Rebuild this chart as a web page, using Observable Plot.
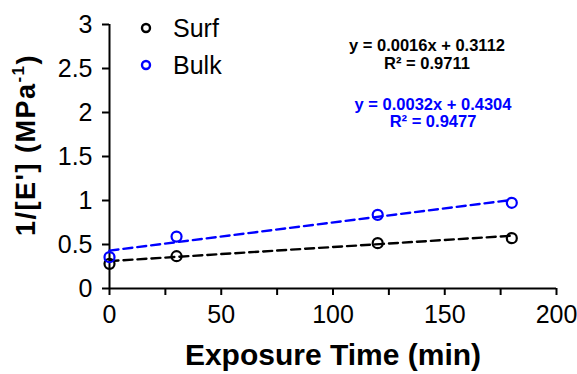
<!DOCTYPE html>
<html>
<head>
<meta charset="utf-8">
<script src="https://cdn.jsdelivr.net/npm/d3@7"></script>
<script src="https://cdn.jsdelivr.net/npm/@observablehq/plot@0.6"></script>
<style>
  html, body { margin: 0; padding: 0; background: #fff; }
  svg { font-family: Arial, "Liberation Sans", sans-serif; }
</style>
</head>
<body>
<div id="chart"></div>
<script>
// Data
const times = [0, 30, 120, 180];
const surf = [0.28, 0.367, 0.515, 0.572];
const bulk = [0.356, 0.59, 0.837, 0.974];

const seriesNames = ["Surf", "Bulk"];
const seriesColors = ["#000000", "#0000FF"];
const slopes = [0.0016, 0.0032];
const intercepts = [0.3112, 0.4304];
const r2 = ["0.9711", "0.9477"];
const fitRange = [0, 180];

const xTicks = [0, 25, 50, 75, 100, 125, 150, 175, 200];
const yTicks = [0, 0.5, 1, 1.5, 2, 2.5, 3];

const points = [];
times.forEach((t, i) => {
  points.push({series: "Surf", x: t, y: surf[i]});
  points.push({series: "Bulk", x: t, y: bulk[i]});
});
const fits = [];
seriesNames.forEach((s, k) => {
  fitRange.forEach(x => fits.push({series: s, x, y: slopes[k] * x + intercepts[k]}));
});

const eqTexts = seriesNames.map((s, k) => ({
  series: s,
  eq: `y = ${slopes[k].toFixed(4)}x + ${intercepts[k].toFixed(4)}`,
  r2: `R² = ${r2[k]}`
}));

const chart = Plot.plot({
  width: 577,
  height: 374,
  marginLeft: 109,
  marginRight: 21,
  marginTop: 24,
  marginBottom: 86,
  style: {fontFamily: "Arial, 'Liberation Sans', sans-serif", background: "#fff", overflow: "visible"},
  x: {domain: [0, 200]},
  y: {domain: [0, 3]},
  color: {domain: seriesNames, range: seriesColors},
  marks: [
    Plot.axisY({ticks: yTicks, tickSize: 7, tickPadding: 10, fontSize: 25, label: null, strokeWidth: 2, tickFormat: d => String(d)}),
    Plot.axisX({ticks: xTicks, tickSize: 7, tickPadding: 10, fontSize: 25, label: null, strokeWidth: 2,
      tickFormat: d => d % 50 === 0 ? String(d) : ""}),
    Plot.ruleX([0], {y1: 0, y2: 3, stroke: "#000", strokeWidth: 2}),
    Plot.ruleY([0], {x1: 0, x2: 200, stroke: "#000", strokeWidth: 2}),
    Plot.line(fits, {x: "x", y: "y", z: "series", stroke: "series", strokeWidth: 2.4, strokeDasharray: "9,5"}),
    Plot.dot(points, {x: "x", y: "y", stroke: "series", r: 5, strokeWidth: 2.2, fill: "none"}),
    Plot.text(["Exposure Time (min)"], {frameAnchor: "bottom", dy: 76, fontSize: 30, fontWeight: "bold", fill: "#000"})
  ]
});

// Legend, equation labels and y title placed relative to the frame
const svg = d3.select(chart);
const frameLeft = 109;
const legendY = [28, 65];
const g = svg.append("g").attr("font-family", "Arial, 'Liberation Sans', sans-serif");
seriesNames.forEach((s, k) => {
  g.append("circle").attr("cx", frameLeft + 37).attr("cy", legendY[k]).attr("r", 4)
    .attr("fill", "none").attr("stroke", seriesColors[k]).attr("stroke-width", 2.4);
  g.append("text").attr("x", frameLeft + 64).attr("y", legendY[k]).attr("dy", "0.35em")
    .attr("text-anchor", "start")
    .attr("font-size", 25).attr("fill", "#000").text(s);
});
const eqX = [427, 433];
const eqY = [[45, 63], [104, 121]];
eqTexts.forEach((e, k) => {
  g.append("text").attr("x", eqX[k]).attr("y", eqY[k][0]).attr("dy", "0.35em").attr("text-anchor", "middle")
    .attr("font-size", 16.5).attr("font-weight", "bold").attr("fill", seriesColors[k]).text(e.eq);
  g.append("text").attr("x", eqX[k]).attr("y", eqY[k][1]).attr("dy", "0.35em").attr("text-anchor", "middle")
    .attr("font-size", 16.5).attr("font-weight", "bold").attr("fill", seriesColors[k]).text(e.r2);
});
const yt = g.append("text")
  .attr("transform", "translate(26,145) rotate(-90)")
  .attr("text-anchor", "middle").attr("dy", "0.35em")
  .attr("font-size", 27).attr("font-weight", "bold").attr("fill", "#000")
  .attr("letter-spacing", 1.5);
yt.append("tspan").text("1/[E'] (MPa");
yt.append("tspan").attr("font-size", 17).attr("dy", "-0.7em").text("-1");
yt.append("tspan").attr("dy", "0.45em").text(")");

document.getElementById("chart").appendChild(chart);
</script>
</body>
</html>
